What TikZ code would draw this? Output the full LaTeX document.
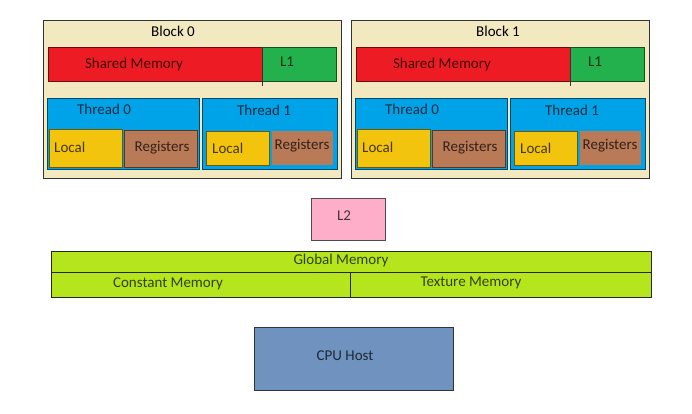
\documentclass[tikz,border=0pt]{standalone}
\usepackage{fontspec}
\setmainfont{Carlito}
\usepackage{xcolor}

\definecolor{blockbg}{HTML}{F3E9C0}
\definecolor{shmred}{HTML}{ED1C24}
\definecolor{lonegreen}{HTML}{22B14C}
\definecolor{thrblue}{HTML}{00A2E8}
\definecolor{locyellow}{HTML}{F2C40E}
\definecolor{regbrown}{HTML}{B97A57}
\definecolor{ltwopink}{HTML}{FFAEC9}
\definecolor{glblime}{HTML}{B5E61D}
\definecolor{cpusteel}{HTML}{7092BE}

\begin{document}
\begin{tikzpicture}[
  x=1pt, y=-1pt,
  every node/.style={font=\fontsize{15}{17}\selectfont},
  box/.style={draw=#1!45!black, fill=#1, line width=0.8pt, rectangle,
    inner sep=0pt, anchor=north west},
  lbl/.style={text=#1!28!black, inner sep=0pt}
]

% Parameters (in pixel units)
\def\BW{298}   % width of a block
\def\BH{158}   % height of a block

% --- Frame of the picture ---
\useasboundingbox (0,0) rectangle (692,413);

% --- The two blocks ---
\foreach \b/\dx/\tx in {0/0/173, 1/308/498}{
  \node[box=blockbg, draw=black!80, minimum width=\BW, minimum height=\BH]
    (blk\b) at (43+\dx,20) {};
  \node[lbl=black] (blkt\b) at (\tx,31) {Block \b};

  % shared memory and L1
  \node[box=shmred, minimum width=214, minimum height=34] (shm\b) at (48+\dx,47) {};
  \node[box=lonegreen, minimum width=74, minimum height=34] (lone\b) at (262+\dx,47) {};
  \coordinate (cut\b) at (262+\dx,86);
  \draw[line width=0.8pt, black!80] (lone\b.north west) -- (cut\b);
  \node[lbl=shmred] (shmt\b) at (134+\dx,64) {Shared Memory};
  \node[lbl=lonegreen] (lonet\b) at (287+\dx,62) {L1};

  % threads
  \node[box=thrblue, minimum width=152, minimum height=71] (thr\b0) at (47+\dx,98) {};
  \node[box=thrblue, minimum width=135, minimum height=71] (thr\b1) at (202+\dx,98) {};
  \node[lbl=thrblue] (thrt\b0) at (104+\dx,109) {Thread 0};
  \node[lbl=thrblue] (thrt\b1) at (264+\dx,110) {Thread 1};

  % local and registers
  \node[box=locyellow, minimum width=73, minimum height=38] (loc\b0) at (49+\dx,129) {};
  \node[box=regbrown, minimum width=73, minimum height=37] (reg\b0) at (124+\dx,130) {};
  \node[box=locyellow, minimum width=63, minimum height=34] (loc\b1) at (206+\dx,131) {};
  \node[box=regbrown, draw=none, minimum width=61, minimum height=34] (reg\b1) at (272+\dx,131) {};
  \node[lbl=locyellow, anchor=west] (loct\b0) at (54+\dx,147) {Local};
  \node[lbl=regbrown] (regt\b0) at (162+\dx,148) {Registers};
  \node[lbl=locyellow, anchor=west] (loct\b1) at (212+\dx,148) {Local};
  \node[lbl=regbrown] (regt\b1) at (302+\dx,146) {Registers};
}

% --- L2 cache ---
\node[box=ltwopink, draw=black!70, minimum width=74, minimum height=42] (ltwo) at (311,198) {};
\node[lbl=ltwopink] (ltwot) at (344,216) {L2};

% --- Global, constant and texture memory ---
\node[box=glblime, draw=black!85, minimum width=600, minimum height=21] (glb) at (51,251) {};
\node[box=glblime, draw=black!85, minimum width=299, minimum height=25] (cst) at (51,272) {};
\node[box=glblime, draw=black!85, minimum width=301, minimum height=25] (tex) at (350,272) {};
\node[lbl=glblime] (glbt) at (341,260) {Global Memory};
\node[lbl=glblime] (cstt) at (168,284) {Constant Memory};
\node[lbl=glblime] (text) at (471,283) {Texture Memory};

% --- Host ---
\node[box=cpusteel, draw=black!80, minimum width=199, minimum height=63] (cpu) at (254,327) {};
\node[lbl=cpusteel] (cput) at (345,356) {CPU Host};

\end{tikzpicture}
\end{document}
